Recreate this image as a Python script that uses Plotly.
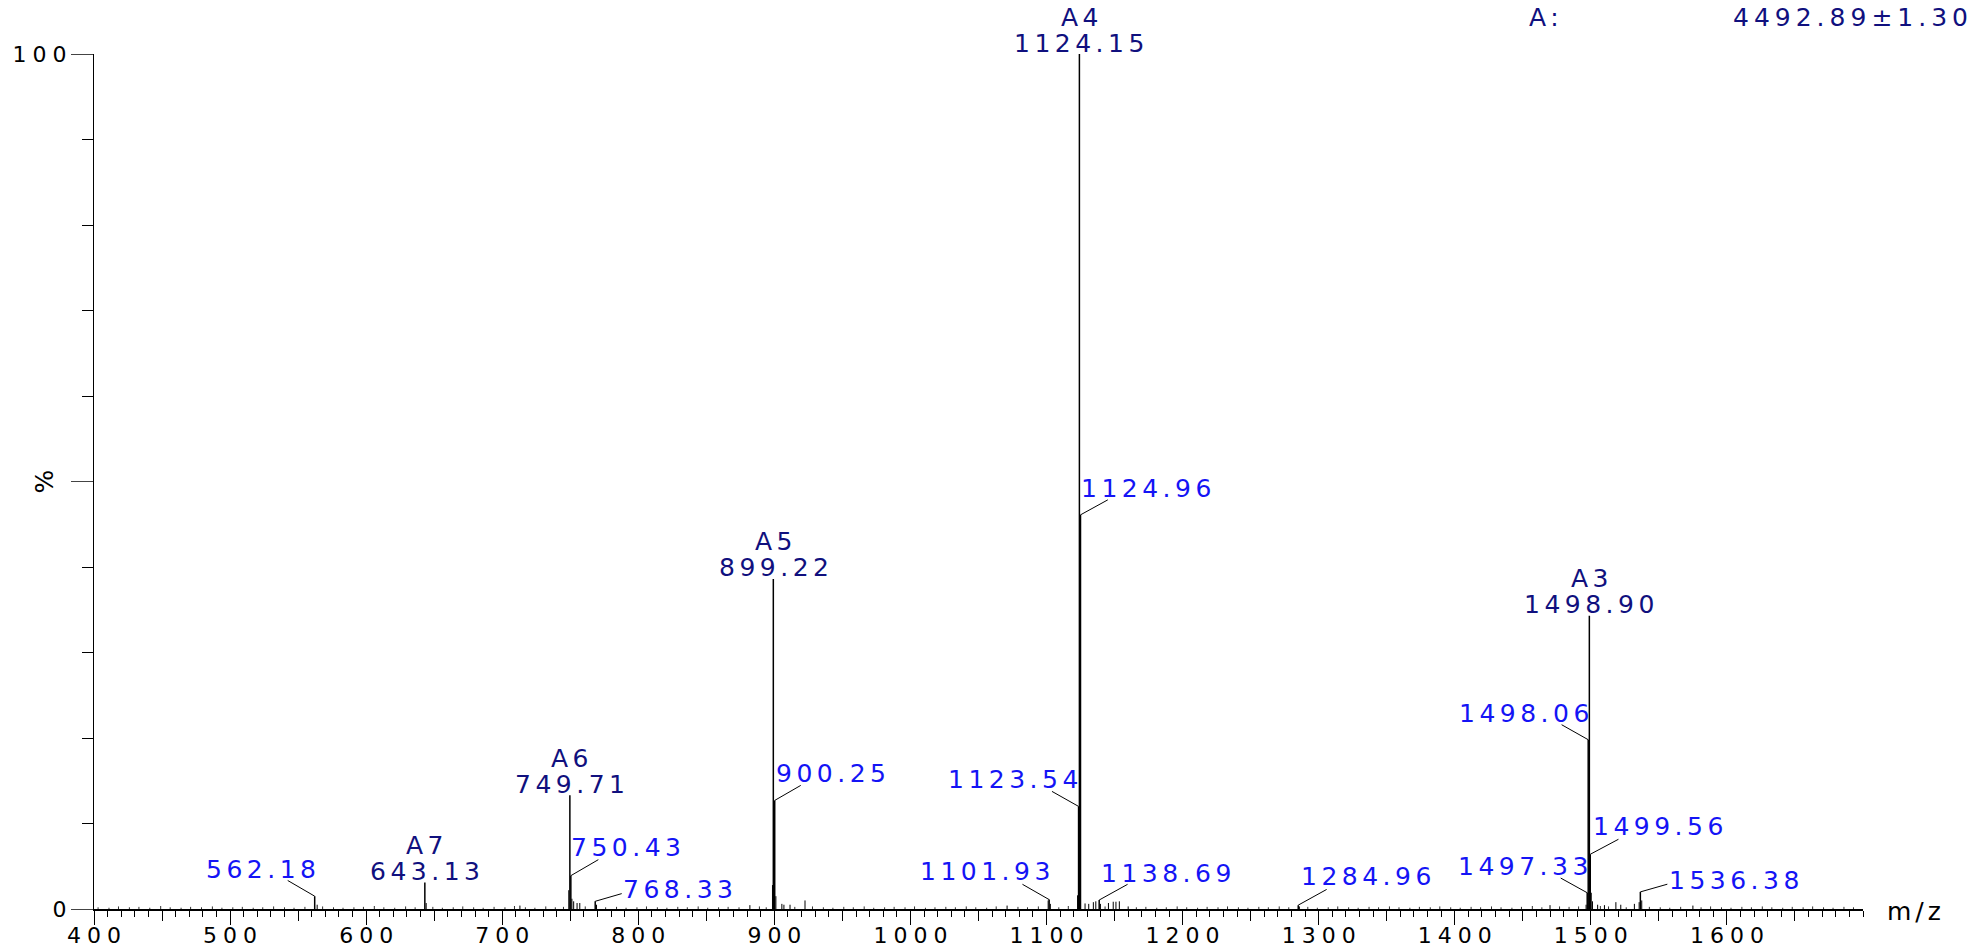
import plotly.graph_objects as go

# ---------------- data ----------------
# labelled peaks (m/z, relative intensity %)
peak_mz = [562.18, 643.13, 749.71, 750.43, 768.33, 899.22, 900.25, 1101.93,
           1123.54, 1124.15, 1124.96, 1138.69, 1284.96, 1497.33, 1498.06,
           1498.90, 1499.56, 1536.38]
peak_int = [1.5, 3.1, 13.3, 3.9, 0.9, 38.6, 12.7, 1.1,
            12.0, 100.0, 46.1, 1.05, 0.45, 1.9, 19.8,
            34.3, 6.4, 2.0]

# charge-state series labels (navy)
charge_names = ["A7", "A6", "A5", "A4", "A3"]
charge_mz = [643.13, 749.71, 899.22, 1124.15, 1498.90]

# plain m/z labels (blue)
blue_mz = [562.18, 750.43, 768.33, 900.25, 1101.93, 1123.54, 1124.96,
           1138.69, 1284.96, 1497.33, 1498.06, 1499.56, 1536.38]

# unlabelled minor peaks
minor_mz = [564.0, 644.1, 713.0, 748.9, 751.2, 752.5, 755.0, 757.0, 769.3,
            882.0, 898.6, 901.1, 905.5, 907.0, 911.5, 922.5, 1071.0, 1101.2,
            1102.8, 1122.8, 1128.3, 1131.0, 1134.4, 1136.2, 1139.6, 1145.5,
            1149.0, 1151.0, 1153.5, 1160.0, 1285.8, 1470.0, 1496.5, 1500.3,
            1501.2, 1505.0, 1510.0, 1518.4, 1522.0, 1532.0, 1535.5, 1537.4,
            1575.0]
minor_int = [0.5, 0.7, 0.4, 2.2, 1.2, 0.9, 0.7, 0.7, 0.5,
             0.45, 2.8, 1.5, 0.6, 0.5, 0.5, 1.0, 0.4, 1.0,
             0.6, 1.6, 0.65, 0.6, 0.8, 0.9, 0.6, 0.7,
             0.85, 0.85, 0.9, 0.3, 0.3, 0.45, 0.5, 1.9,
             0.9, 0.5, 0.45, 0.8, 0.5, 0.6, 0.8, 1.0,
             0.4]

# baseline noise
grass_mz = [403, 411, 418, 426, 433, 441, 449, 456, 464, 471, 479, 487, 494,
            502, 509, 517, 524, 532, 540, 547, 555, 568, 576, 583, 591, 598,
            606, 613, 621, 629, 636, 649, 656, 664, 671, 679, 686, 694, 702,
            709, 717, 724, 732, 739, 745, 761, 776, 784, 791, 799, 806, 814,
            821, 829, 836, 844, 851, 859, 866, 874, 889, 894, 915, 928, 936,
            943, 951, 958, 966, 973, 981, 988, 996, 1003, 1011, 1018, 1026,
            1033, 1041, 1048, 1056, 1063, 1079, 1086, 1094, 1109, 1116, 1143,
            1166, 1173, 1181, 1188, 1196, 1203, 1211, 1218, 1226, 1233, 1241,
            1248, 1256, 1263, 1271, 1278, 1292, 1299, 1307, 1314, 1322, 1329,
            1337, 1344, 1352, 1359, 1367, 1374, 1382, 1389, 1397, 1404, 1412,
            1419, 1427, 1434, 1442, 1449, 1457, 1464, 1477, 1484, 1491, 1507,
            1513, 1526, 1543, 1551, 1558, 1566, 1581, 1588, 1596, 1603, 1611,
            1618, 1626, 1633, 1641, 1648, 1656, 1663, 1671, 1678, 1686, 1693]
grass_int = [0.2, 0.15, 0.3, 0.2, 0.25, 0.15, 0.35, 0.2, 0.15, 0.25, 0.2, 0.3,
             0.15, 0.2, 0.25, 0.15, 0.2, 0.3, 0.2, 0.15, 0.25, 0.3, 0.2, 0.15,
             0.2, 0.25, 0.35, 0.2, 0.15, 0.3, 0.2, 0.25, 0.15, 0.2, 0.3, 0.2,
             0.15, 0.25, 0.2, 0.35, 0.2, 0.15, 0.3, 0.2, 0.25, 0.3, 0.2, 0.25,
             0.15, 0.2, 0.3, 0.2, 0.15, 0.25, 0.2, 0.3, 0.15, 0.2, 0.25, 0.2,
             0.3, 0.2, 0.25, 0.3, 0.2, 0.15, 0.25, 0.2, 0.3, 0.15, 0.2, 0.25,
             0.2, 0.3, 0.15, 0.2, 0.25, 0.2, 0.3, 0.2, 0.15, 0.3, 0.25, 0.2,
             0.3, 0.2, 0.35, 0.3, 0.2, 0.25, 0.15, 0.2, 0.3, 0.2, 0.15, 0.25,
             0.2, 0.3, 0.2, 0.15, 0.25, 0.2, 0.3, 0.2, 0.25, 0.15, 0.2, 0.3,
             0.2, 0.15, 0.25, 0.2, 0.3, 0.2, 0.15, 0.25, 0.2, 0.3, 0.2, 0.15,
             0.25, 0.2, 0.3, 0.2, 0.15, 0.25, 0.35, 0.2, 0.3, 0.25, 0.3, 0.35,
             0.3, 0.2, 0.25, 0.2, 0.15, 0.25, 0.2, 0.3, 0.2, 0.15, 0.25, 0.2,
             0.3, 0.2, 0.15, 0.25, 0.2, 0.3, 0.2, 0.15, 0.25, 0.2]

x_ticks = [400, 500, 600, 700, 800, 900, 1000, 1100, 1200, 1300, 1400, 1500, 1600]
x_half_ticks = [450, 550, 650, 750, 850, 950, 1050, 1150, 1250, 1350, 1450, 1550, 1650]
mass_text = "4492.89±1.30"

# ---------------- styling / label layout ----------------
FONT = "DejaVu Sans"
NAVY = "#10107e"
BLUE = "#1414f5"
LSZ = 25     # peak label font size
LS = 4.5     # letter spacing for peak labels
TSZ = 22     # tick label font size
LS_T = 6     # letter spacing for tick labels

# mz -> (side, visible edge offset px, centre height px, leader end dx, leader end dy)
blue_layout = {
    562.18: ("left", 0, 27, -27, 15.7),
    750.43: ("right", 1.5, 28, 27.5, 16),
    768.33: ("right", 28.5, 11.7, 26.5, 7.7),
    900.25: ("right", 2.5, 26.7, 26, 15),
    1101.93: ("left", 0, 27.8, -26.7, 15.3),
    1123.54: ("left", -1.3, 26.7, -26.6, 15),
    1124.96: ("right", 1.3, 26.5, 27.3, 15),
    1138.69: ("right", 2.4, 26.5, 28.4, 15.7),
    1284.96: ("right", 3.4, 28.5, 28.4, 15.7),
    1497.33: ("left", 0, 26.7, -26.5, 14.7),
    1498.06: ("left", 0, 26.5, -26.6, 15),
    1499.56: ("right", 3.5, 27.5, 28.2, 15),
    1536.38: ("right", 30, 11.7, 27, 7.7),
}


def spaced(t, s):
    return f'<span style="letter-spacing:{s}px">{t}</span>'


def sticks(mz, inten):
    xs, ys = [], []
    for m, v in zip(mz, inten):
        xs += [m, m, None]
        ys += [0, v, None]
    return xs, ys


height_of = dict(zip(peak_mz, peak_int))

fig = go.Figure()
gx, gy = sticks(grass_mz, grass_int)
fig.add_trace(go.Scatter(x=gx, y=gy, mode="lines", xaxis="x2",
                         line=dict(color="#333333", width=1), hoverinfo="skip"))
mx, my = sticks(minor_mz, minor_int)
fig.add_trace(go.Scatter(x=mx, y=my, mode="lines",
                         line=dict(color="black", width=1), hoverinfo="skip"))
px_, py_ = sticks(peak_mz, peak_int)
fig.add_trace(go.Scatter(x=px_, y=py_, mode="lines",
                         line=dict(color="black", width=1.5), hoverinfo="skip"))

annotations = []
shapes = []

# navy charge-state labels
for name, m in zip(charge_names, charge_mz):
    h = height_of[m]
    annotations.append(dict(x=m, y=h, xref="x", yref="y", text=spaced(f"{m:.2f}", LS),
                            showarrow=False, xanchor="center", yanchor="middle",
                            yshift=11, xshift=LS / 2, borderpad=0, borderwidth=0,
                            font=dict(family=FONT, size=LSZ, color=NAVY)))
    annotations.append(dict(x=m, y=h, xref="x", yref="y", text=spaced(name, LS),
                            showarrow=False, xanchor="center", yanchor="middle",
                            yshift=37, xshift=LS / 2, borderpad=0, borderwidth=0,
                            font=dict(family=FONT, size=LSZ, color=NAVY)))

# blue labels with leader lines
for m in blue_mz:
    side, edge, cy, ex, ey = blue_layout[m]
    h = height_of[m]
    if side == "right":
        xa, xs = "left", edge - 1
    else:
        xa, xs = "right", edge + 1 + LS
    annotations.append(dict(x=m, y=h, xref="x", yref="y", text=spaced(f"{m:.2f}", LS),
                            showarrow=False, xanchor=xa, yanchor="middle",
                            xshift=xs, yshift=cy, borderpad=0, borderwidth=0,
                            font=dict(family=FONT, size=LSZ, color=BLUE)))
    shapes.append(dict(type="line", xref="x", yref="y", xsizemode="pixel",
                       ysizemode="pixel", xanchor=m, yanchor=h,
                       x0=0, y0=0, x1=ex, y1=ey,
                       line=dict(color="black", width=1)))

# axis titles and mass result
annotations.append(dict(x=1.0, y=0, xref="paper", yref="y", text=spaced("m/z", 4),
                        showarrow=False, xanchor="left", yanchor="middle",
                        xshift=22, yshift=-2,
                        font=dict(family=FONT, size=LSZ, color="black")))
annotations.append(dict(x=0, y=50, xref="paper", yref="y", text="%",
                        showarrow=False, xanchor="center", yanchor="middle",
                        xshift=-50, textangle=-90,
                        font=dict(family=FONT, size=25, color="black")))
annotations.append(dict(x=0.8197, y=1, xref="paper", yref="paper", text=spaced("A:", LS),
                        showarrow=False, xanchor="center", yanchor="middle",
                        yshift=37, xshift=LS / 2, borderpad=0, borderwidth=0,
                        font=dict(family=FONT, size=LSZ, color=NAVY)))
annotations.append(dict(x=0.9873, y=1, xref="paper", yref="paper", text=spaced(mass_text, 5),
                        showarrow=False, xanchor="center", yanchor="middle",
                        yshift=37, xshift=12, borderpad=0, borderwidth=0,
                        font=dict(family=FONT, size=LSZ, color=NAVY)))

fig.update_layout(
    width=1974, height=950,
    margin=dict(l=94, r=111, t=54, b=41, autoexpand=False),
    plot_bgcolor="white", paper_bgcolor="white",
    showlegend=False,
    annotations=annotations, shapes=shapes,
    xaxis=dict(range=[400, 1700], tickmode="array", tickvals=x_ticks,
               ticktext=[spaced(str(v), LS_T) for v in x_ticks],
               ticks="outside", ticklen=14, tickwidth=1, tickcolor="black",
               showline=True, linecolor="black", linewidth=1.5,
               showgrid=False, zeroline=False, ticklabelshift=3,
               ticklabelstandoff=-8, automargin=False,
               tickfont=dict(family=FONT, size=TSZ, color="black"),
               minor=dict(tickmode="linear", tick0=400, dtick=10, ticklen=6,
                          ticks="outside", tickcolor="black", tickwidth=1,
                          showgrid=False)),
    xaxis2=dict(range=[400, 1700], overlaying="x", anchor="y", side="bottom",
                tickmode="array", tickvals=x_half_ticks, ticks="outside",
                ticklen=11, tickwidth=1, tickcolor="black", automargin=False,
                showticklabels=False, showline=False, showgrid=False,
                zeroline=False),
    yaxis=dict(range=[0, 100], tickmode="array", tickvals=[0, 50, 100],
               ticktext=[spaced("0", LS_T), "", spaced("100", LS_T)],
               ticks="outside", ticklen=22, tickwidth=1, tickcolor="#444444",
               showline=True, linecolor="black", linewidth=1,
               showgrid=False, zeroline=False, ticklabelstandoff=-6,
               automargin=False,
               tickfont=dict(family=FONT, size=TSZ, color="black"),
               minor=dict(tickmode="linear", tick0=0, dtick=10, ticklen=11,
                          ticks="outside", tickcolor="black", tickwidth=1,
                          showgrid=False)),
)

fig.write_html("out.html",
               config={"displayModeBar": False},
               post_script="document.body.style.margin='0';"
                           "document.body.style.overflow='hidden';")
